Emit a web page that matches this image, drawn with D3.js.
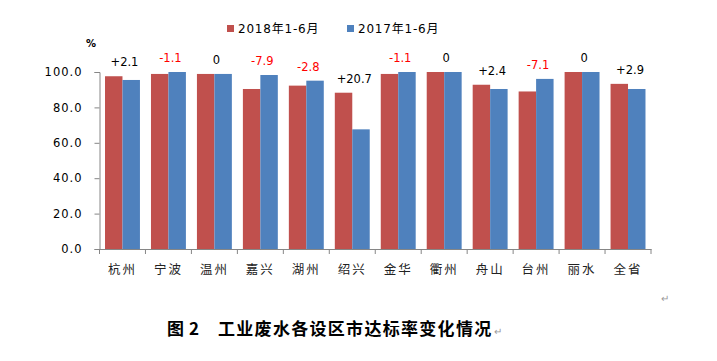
<!DOCTYPE html>
<html>
<head>
<meta charset="utf-8">
<script src="https://cdn.jsdelivr.net/npm/d3@7"></script>
<style>
  body { margin: 0; background: #fff; }
  svg { display: block; }
  .tick text { font-family: "DejaVu Sans", Verdana, sans-serif; }
</style>
</head>
<body>
<div id="chart"></div>
<script>
// categories and values
const cities = ['杭州', '宁波', '温州', '嘉兴', '湖州', '绍兴', '金华', '衢州', '舟山', '台州', '丽水', '全省'];
const rate2018 = [97.6, 98.9, 98.9, 90.4, 92.3, 88.3, 98.9, 100, 92.8, 89.0, 100, 93.3];
const rate2017 = [95.5, 100, 98.9, 98.3, 95.1, 67.6, 100, 100, 90.4, 96.1, 100, 90.4];
const changes = ['+2.1', '-1.1', '0', '-7.9', '-2.8', '+20.7', '-1.1', '0', '+2.4', '-7.1', '0', '+2.9'];
const seriesNames = ['2018年1-6月', '2017年1-6月'];
const yTicks = [0, 20, 40, 60, 80, 100];

const colors = ['#C0504D', '#4F81BD'];
const width = 717;
const height = 361;

const svg = d3.select('#chart')
  .append('svg')
  .attr('width', width)
  .attr('height', height);

svg.append('rect').attr('width', width).attr('height', height).attr('fill', '#fff');

const xScale = d3.scaleBand()
  .domain(cities)
  .range([99.5, 651])
  .paddingInner(0.24)
  .paddingOuter(0.12);

const xSub = d3.scaleBand()
  .domain(seriesNames)
  .range([0, xScale.bandwidth()]);

const yScale = d3.scaleLinear().domain([0, 100]).range([249, 72]);

// y axis
const yAxis = d3.axisLeft(yScale)
  .tickValues(yTicks)
  .tickFormat(d3.format('.1f'))
  .tickSize(5)
  .tickPadding(12);

const gy = svg.append('g')
  .attr('transform', 'translate(99.5,0)')
  .call(yAxis);
gy.select('.domain').attr('stroke', '#868686');
gy.selectAll('.tick line').attr('stroke', '#868686');
gy.selectAll('.tick text')
  .attr('fill', '#000')
  .style('font-size', '11.5px')
  .style('letter-spacing', '1px');

// bars
const groups = svg.append('g')
  .selectAll('g')
  .data(cities)
  .join('g')
  .attr('transform', (d) => `translate(${xScale(d)},0)`);

groups.selectAll('rect')
  .data((d, i) => [
    { key: seriesNames[0], value: rate2018[i] },
    { key: seriesNames[1], value: rate2017[i] },
  ])
  .join('rect')
  .attr('x', (d) => xSub(d.key))
  .attr('y', (d) => yScale(d.value))
  .attr('width', xSub.bandwidth())
  .attr('height', (d) => yScale(0) - yScale(d.value))
  .attr('fill', (d, i) => colors[i]);

// change labels above each group
groups.append('text')
  .attr('x', xScale.bandwidth() / 2 + 2)
  .attr('y', (d, i) => yScale(Math.max(rate2018[i], rate2017[i])) - 10)
  .attr('text-anchor', 'middle')
  .style('font-family', '"DejaVu Sans", Verdana, sans-serif')
  .style('font-size', '11.5px')
  .attr('fill', (d, i) => (changes[i].startsWith('-') ? '#FF0000' : '#000'))
  .text((d, i) => changes[i]);

// x axis with ticks between categories
const xAxis = d3.axisBottom(xScale).tickSize(0).tickPadding(16);
const gx = svg.append('g')
  .attr('transform', `translate(0,${yScale(0)})`)
  .call(xAxis);
gx.select('.domain').attr('stroke', '#868686');
gx.selectAll('.tick text')
  .attr('fill', '#222')
  .style('font-family', '"Noto Sans CJK SC", sans-serif')
  .style('font-size', '12.5px')
  .style('letter-spacing', '2px');

const bounds = d3.range(cities.length + 1).map((i) => 99.5 + i * xScale.step());
gx.selectAll('.bound')
  .data(bounds)
  .join('line')
  .attr('class', 'bound')
  .attr('x1', (d) => d)
  .attr('x2', (d) => d)
  .attr('y1', 0)
  .attr('y2', 5)
  .attr('stroke', '#868686');

// unit
svg.append('text')
  .attr('x', 91)
  .attr('y', 47)
  .attr('text-anchor', 'middle')
  .style('font-family', '"DejaVu Sans", sans-serif')
  .style('font-size', '10px')
  .style('font-weight', 'bold')
  .text('%');

// legend
const legendX = [227, 347];
const legend = svg.append('g')
  .selectAll('g')
  .data(seriesNames)
  .join('g')
  .attr('transform', (d, i) => `translate(${legendX[i]},25)`);
legend.append('rect')
  .attr('width', 7)
  .attr('height', 7)
  .attr('fill', (d, i) => colors[i]);
legend.append('text')
  .attr('x', 11)
  .attr('y', 4)
  .attr('dy', '0.35em')
  .style('font-family', '"DejaVu Sans", "Noto Sans CJK SC", sans-serif')
  .style('font-size', '12px')
  .style('letter-spacing', '0.8px')
  .text((d) => d);

// caption
const caption = svg.append('g')
  .style('font-family', '"Noto Sans CJK SC", sans-serif')
  .style('font-weight', 'bold')
  .style('font-size', '17px');
caption.append('text').attr('x', 167).attr('y', 335).text('图');
caption.append('text').attr('x', 189).attr('y', 335).text('2');
caption.append('text').attr('x', 218).attr('y', 335).style('letter-spacing', '1.3px').text('工业废水各设区市达标率变化情况');
svg.append('text').attr('x', 494).attr('y', 335).attr('fill', '#999').style('font-size', '10px').text('↵');
svg.append('text').attr('x', 661).attr('y', 302).attr('fill', '#999').style('font-size', '10px').text('↵');
</script>
</body>
</html>
